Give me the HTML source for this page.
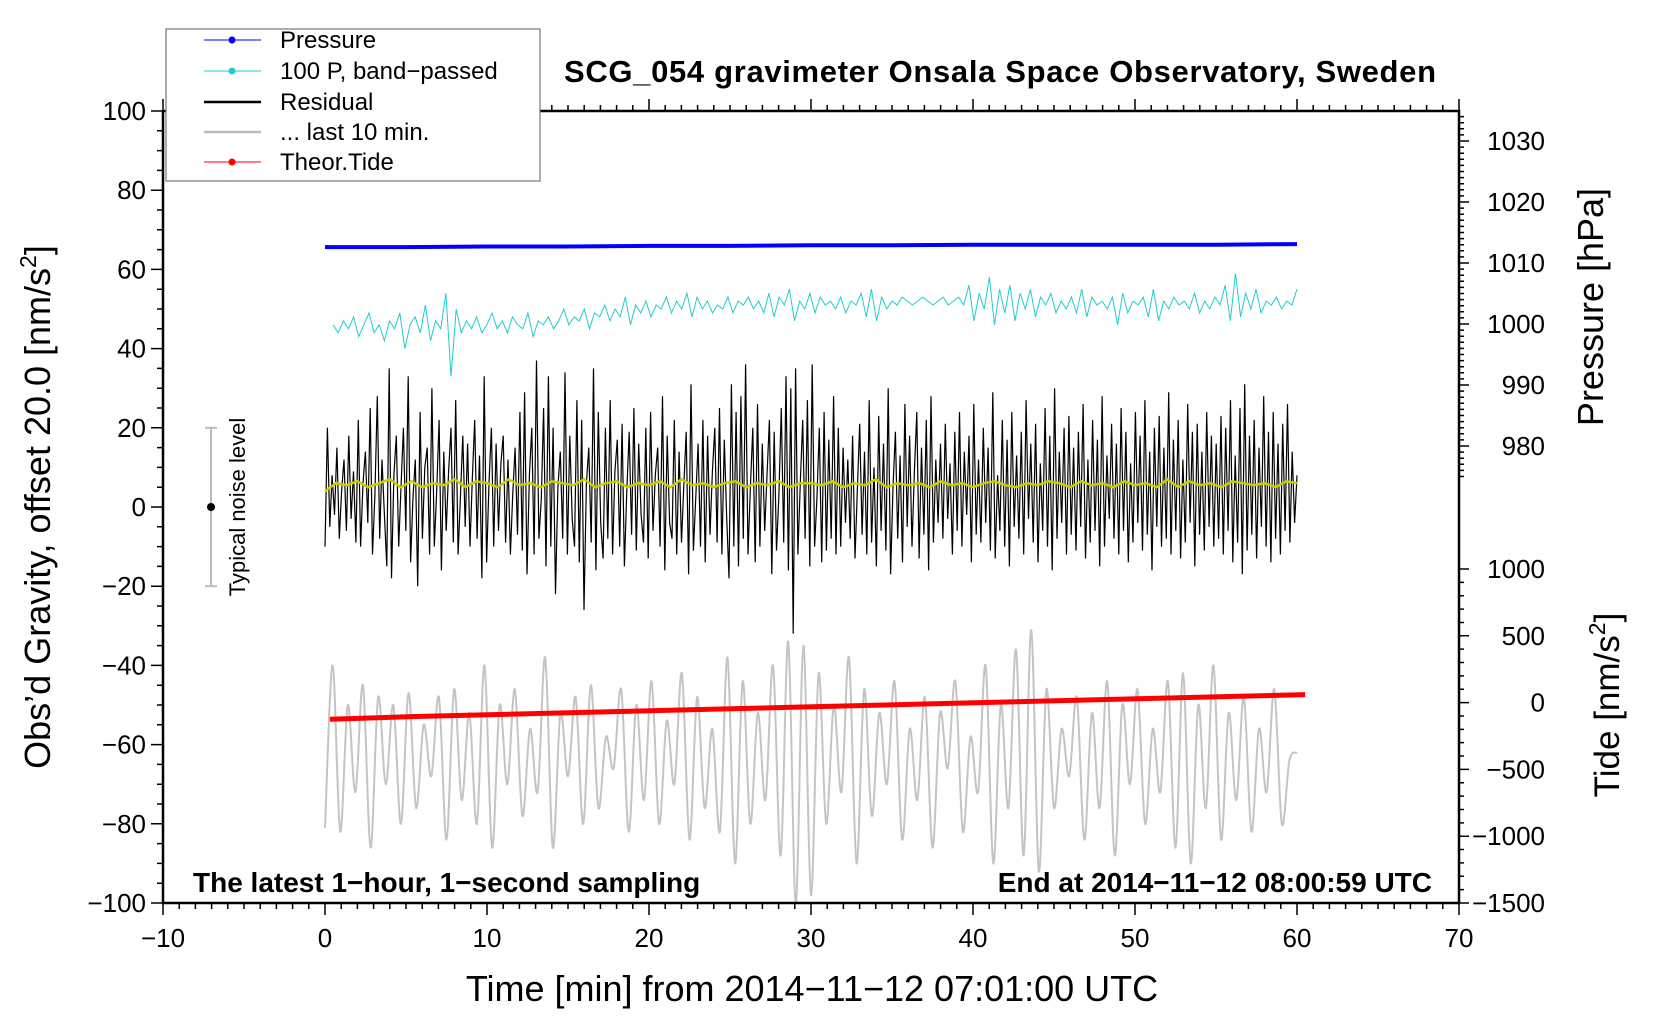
<!DOCTYPE html>
<html><head><meta charset="utf-8"><style>
html,body{margin:0;padding:0;background:#fff;}
svg{display:block;font-family:"Liberation Sans",sans-serif;}
</style></head><body>
<svg id="chart" width="1660" height="1020" viewBox="0 0 1660 1020" xmlns="http://www.w3.org/2000/svg">
<rect width="1660" height="1020" fill="#fff"/>
<g id="plot"></g>
<g id="axes"></g>
<text x="1000" y="82" text-anchor="middle" font-size="31" font-weight="bold" textLength="872">SCG_054 gravimeter Onsala Space Observatory, Sweden</text>
<text x="812" y="1001" text-anchor="middle" font-size="36">Time [min] from 2014−11−12 07:01:00 UTC</text>
<text transform="translate(50,507) rotate(-90)" text-anchor="middle" font-size="36">Obs’d Gravity, offset 20.0 [nm/s<tspan font-size="23" dy="-14">2</tspan><tspan dy="14">]</tspan></text>
<text transform="translate(1603,307) rotate(-90)" text-anchor="middle" font-size="36">Pressure [hPa]</text>
<text transform="translate(1619,705) rotate(-90)" text-anchor="middle" font-size="35">Tide [nm/s<tspan font-size="23" dy="-14">2</tspan><tspan dy="14">]</tspan></text>
<text x="193" y="892" font-size="28" font-weight="bold">The latest 1−hour, 1−second sampling</text>
<text x="1432" y="892" text-anchor="end" font-size="28" font-weight="bold">End at 2014−11−12 08:00:59 UTC</text>
<g>
<line id="nl" x1="211" x2="211" stroke="#bbb" stroke-width="2"/>
<line id="nlt" x1="205" x2="217" stroke="#bbb" stroke-width="2"/>
<line id="nlb" x1="205" x2="217" stroke="#bbb" stroke-width="2"/>
<circle id="nld" cx="211" r="4" fill="#000"/>
<text transform="translate(245,507) rotate(-90)" text-anchor="middle" font-size="22">Typical noise level</text>
</g>
<g>
<rect x="166" y="29" width="374" height="152" fill="#fff" stroke="#777" stroke-width="1.2"/>
<g><line x1="204" x2="261" y1="40" y2="40" stroke="#00f" stroke-width="1"/><circle cx="232" cy="40" r="3.5" fill="#00f"/><text x="280" y="48" font-size="24">Pressure</text></g>
<g><line x1="204" x2="261" y1="71" y2="71" stroke="#2cc" stroke-width="1"/><circle cx="232" cy="71" r="3.5" fill="#2cc"/><text x="280" y="79" font-size="24">100 P, band−passed</text></g>
<g><line x1="204" x2="261" y1="102" y2="102" stroke="#000" stroke-width="2.5"/><text x="280" y="110" font-size="24">Residual</text></g>
<g><line x1="204" x2="261" y1="132" y2="132" stroke="#bbb" stroke-width="2.5"/><text x="280" y="140" font-size="24">... last 10 min.</text></g>
<g><line x1="204" x2="261" y1="162" y2="162" stroke="#f00" stroke-width="1"/><circle cx="232" cy="162" r="3.5" fill="#f00"/><text x="280" y="170" font-size="24">Theor.Tide</text></g>
</g>
</svg>
<script>
const xTicks=[-10,0,10,20,30,40,50,60,70];
const yTicks=[100,80,60,40,20,0,-20,-40,-60,-80,-100];
const pTicks=[1030,1020,1010,1000,990,980];
const tTicks=[1000,500,0,-500,-1000,-1500];
const pressure=[1012.6,1012.6,1012.7,1012.7,1012.8,1012.8,1012.9,1012.9,1013.0,1013.0,1013.0,1013.0,1013.1];
const tide=[-125,-105,-90,-75,-60,-45,-30,-15,0,15,30,45,60];
const tideEnd=60.5;
const residual=[-10,20,-5,8,-2,15,-8,4,12,-6,18,-3,9,-9,22,-10,6,14,-4,25,-12,3,28,-8,12,-2,-15,35,-18,8,18,-10,5,20,-6,33,-14,2,12,-20,24,-8,10,15,-12,30,-10,4,22,-16,14,-6,9,20,-9,27,-12,3,18,-5,16,-10,7,22,-8,13,-18,33,-14,6,20,-10,16,-6,11,18,-9,12,-12,3,15,-7,24,-11,29,-17,8,20,-12,37,-8,2,25,-15,33,-10,20,-22,5,14,-8,34,-12,18,-3,-10,27,-14,22,-26,6,15,-9,35,-16,24,-4,-13,20,-8,27,-12,9,17,-10,21,-15,4,19,-7,25,-11,16,-2,-9,20,-13,24,-6,8,15,-10,28,-16,18,-4,-8,22,-12,14,-9,6,19,-17,31,-11,2,16,-10,22,-14,18,-7,9,20,-9,25,-12,17,-2,-18,31,-10,24,-15,28,-8,36,-12,5,20,-14,26,-10,16,-6,8,22,-17,19,-11,3,25,-9,33,-16,30,-32,35,-12,6,22,-8,27,-15,36,-10,2,20,-14,24,-11,17,-8,28,-12,20,-10,15,-4,12,-8,18,-13,4,21,-7,14,-12,27,-9,10,-15,23,-6,16,-11,30,-17,5,19,-8,13,-14,26,-5,18,-10,9,24,-13,15,-7,22,-16,28,-9,12,-4,
16,-8,21,-3,11,-12,19,-6,24,-10,14,-2,18,-14,26,-7,12,-9,20,-4,15,-11,29,-13,8,-6,22,-10,17,-15,24,-5,13,-8,19,-12,27,-3,16,-9,21,-14,11,-6,25,-10,18,-16,30,-8,14,-4,20,-12,23,-7,15,-11,19,-5,26,-13,12,-9,22,-6,17,-15,28,-10,13,-3,21,-8,16,-12,25,-6,19,-14,11,-9,24,-4,18,-11,27,-7,14,-16,20,-5,23,-10,15,-8,29,-12,17,-6,22,-13,12,-9,26,-4,19,-15,21,-7,14,-11,24,-5,18,-10,16,-8,23,-12,20,-6,27,-14,13,-9,25,-17,31,-11,18,-7,22,-13,15,-5,28,-10,19,-14,24,-8,16,-12,21,-6,26,-9,14,-4,8];
const cyan=[46,44,47,45,48,43,46,49,44,46,42,47,45,49,40,46,48,44,51,42,47,45,54,33,50,44,47,45,48,44,46,49,45,47,44,48,46,45,49,43,47,46,48,45,47,50,46,48,47,50,45,49,48,51,47,50,48,53,46,51,49,52,48,51,50,53,49,52,50,54,48,53,50,52,49,51,50,53,49,52,51,53,50,52,49,54,48,53,51,55,47,52,50,54,49,53,51,52,50,53,49,52,51,54,48,55,47,53,50,52,51,53,52,51,52,53,52,51,52,53,51,52,53,51,56,47,54,50,58,46,55,49,56,47,54,50,55,48,53,51,54,49,52,50,53,49,55,48,53,51,52,50,53,46,54,49,52,51,53,48,55,47,52,50,53,51,52,50,54,49,52,50,53,51,56,47,59,48,54,50,55,49,52,51,53,50,52,51,55];
const yellow=[4,6,5.5,6.5,5,6,7,5,6.5,5,6,5.5,7,5,6.5,6,5,7,5.5,6,5,6.5,6,5.5,7,5,6,6.5,5,6,5.5,6.5,5,7,5.5,6,5,6,6.5,5,6,5.5,6.5,5,6,6,5.5,6.5,5,6,5.5,7,5,6,5.5,6,5,6.5,5.5,6,5,6,6.5,5.5,5,6,5.5,6.5,6,5,6.5,5.5,6,5,6.5,5.5,6,5,7,5,6.5,5.5,6,5,6.5,6,5.5,6,5,6.5,6];
const gray=[-81,-40,-82,-50,-72,-45,-86,-48,-70,-50,-80,-47,-76,-55,-68,-48,-84,-46,-74,-52,-80,-40,-86,-50,-70,-46,-78,-56,-72,-38,-86,-52,-68,-48,-80,-45,-76,-58,-66,-46,-82,-50,-74,-44,-80,-54,-70,-42,-84,-48,-76,-56,-82,-38,-90,-44,-80,-52,-74,-40,-88,-34,-100,-35,-98,-42,-80,-50,-72,-38,-90,-46,-78,-52,-70,-44,-84,-56,-74,-48,-86,-52,-66,-44,-82,-58,-72,-40,-90,-50,-76,-36,-88,-31,-92,-46,-76,-56,-68,-48,-84,-52,-76,-44,-88,-50,-70,-46,-80,-56,-72,-44,-86,-42,-90,-50,-76,-40,-84,-52,-74,-48,-82,-56,-72,-46,-80,-64,-62];

const L=163,R=1459,T=111,B=903;
const xs=v=>L+(v+10)*(R-L)/80;
const ys=v=>T+(100-v)*(B-T)/200;
const ps=v=>141+(1030-v)*6.1;
const ts=v=>903-(v+1500)*(903-569)/2500;
const NS='http://www.w3.org/2000/svg';
const plot=document.getElementById('plot'),axes=document.getElementById('axes');
function mk(tag,at,parent){const e=document.createElementNS(NS,tag);for(const k in at)e.setAttribute(k,at[k]);parent.appendChild(e);return e;}
function series(arr,x0,x1){return arr.map((v,i)=>[x0+(x1-x0)*i/(arr.length-1),v]);}

// gray last 10 min (Catmull-Rom through points)
let gp=series(gray,0,60).map(([t,v])=>[xs(t),ys(v)]);
let d='M'+gp[0][0].toFixed(1)+' '+gp[0][1].toFixed(1);
for(let i=0;i<gp.length-1;i++){
 const p0=gp[Math.max(0,i-1)],p1=gp[i],p2=gp[i+1],p3=gp[Math.min(gp.length-1,i+2)];
 const c1x=p1[0]+(p2[0]-p0[0])/6,c1y=p1[1]+(p2[1]-p0[1])/6;
 const c2x=p2[0]-(p3[0]-p1[0])/6,c2y=p2[1]-(p3[1]-p1[1])/6;
 d+=` C${c1x.toFixed(1)} ${c1y.toFixed(1)} ${c2x.toFixed(1)} ${c2y.toFixed(1)} ${p2[0].toFixed(1)} ${p2[1].toFixed(1)}`;
}
let g=mk('path',{d:d,fill:'none',stroke:'#c4c4c4','stroke-width':2},plot);



let r=mk('polyline',{points:series(residual,0,60).map(([t,v])=>xs(t).toFixed(1)+','+ys(v).toFixed(1)).join(' '),fill:'none',stroke:'#000','stroke-width':1.2},plot);



let y=mk('polyline',{points:series(yellow,0,60).map(([t,v])=>xs(t).toFixed(1)+','+ys(v).toFixed(1)).join(' '),fill:'none',stroke:'#cc0','stroke-width':2.5},plot);



let c=mk('polyline',{points:series(cyan,0.5,60).map(([t,v])=>xs(t).toFixed(1)+','+ys(v).toFixed(1)).join(' '),fill:'none',stroke:'#2cc','stroke-width':1},plot);



let p=mk('polyline',{points:series(pressure,0,60).map(([t,v])=>xs(t).toFixed(1)+','+ps(v).toFixed(1)).join(' '),fill:'none',stroke:'#00f','stroke-width':4},plot);



let td=mk('polyline',{points:series(tide,0.3,tideEnd).map(([t,v])=>xs(t).toFixed(1)+','+ts(v).toFixed(1)).join(' '),fill:'none',stroke:'#f00','stroke-width':5},plot);



document.getElementById('nl').setAttribute('y1',ys(20));document.getElementById('nl').setAttribute('y2',ys(-20));
document.getElementById('nlt').setAttribute('y1',ys(20));document.getElementById('nlt').setAttribute('y2',ys(20));
document.getElementById('nlb').setAttribute('y1',ys(-20));document.getElementById('nlb').setAttribute('y2',ys(-20));
document.getElementById('nld').setAttribute('cy',ys(0));

let fr=mk('rect',{x:L,y:T,width:R-L,height:B-T,fill:'none',stroke:'#000','stroke-width':2.5},axes);


let tk='';
for(let t=-10;t<=70;t++){const x=xs(t),len=t%10===0?12:6;tk+=`M${x} ${B}v${len}M${x} ${T}v${-len}`;}
for(let v=-100;v<=100;v+=5){const yy=ys(v),len=v%20===0?12:6;tk+=`M${L} ${yy}h${-len}`;}
for(let v=975;v<=1035;v++){const yy=ps(v);if(yy<T||yy>B)continue;tk+=`M${R} ${yy}h${v%10===0?10:5}`;}
for(let v=-1500;v<=1000;v+=100){const yy=ts(v);tk+=`M${R} ${yy}h${v%500===0?10:5}`;}
let tp=mk('path',{d:tk,stroke:'#000','stroke-width':1.5,fill:'none'},axes);


xTicks.forEach(v=>{let e=mk('text',{x:xs(v),y:B+44,'text-anchor':'middle','font-size':26},axes);e.textContent=String(v).replace('-','−');

});
yTicks.forEach(v=>{let e=mk('text',{x:L-17,y:ys(v)+9,'text-anchor':'end','font-size':26},axes);e.textContent=String(v).replace('-','−');

});
pTicks.forEach(v=>{let e=mk('text',{x:R+86,y:ps(v)+9,'text-anchor':'end','font-size':26},axes);e.textContent=String(v);

});
tTicks.forEach(v=>{let e=mk('text',{x:R+86,y:ts(v)+9,'text-anchor':'end','font-size':26},axes);e.textContent=String(v).replace('-','−');

});
</script>
</body></html>
